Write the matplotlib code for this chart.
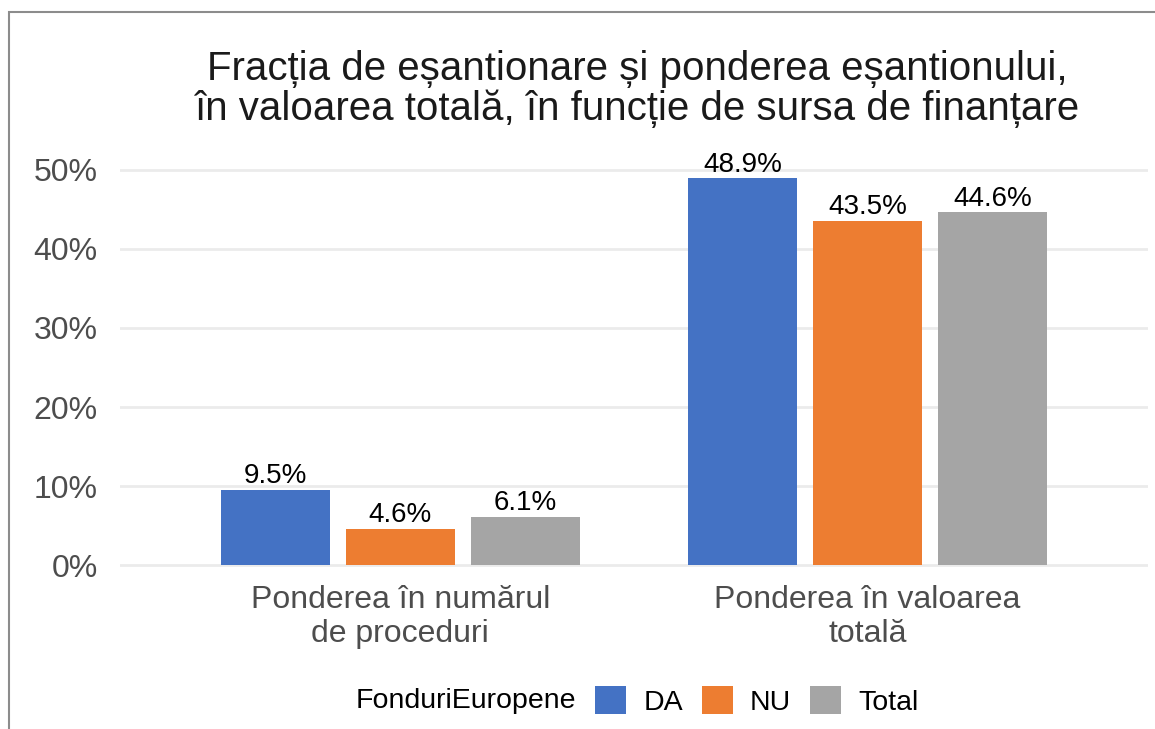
import matplotlib.pyplot as plt
import matplotlib.patches as mpatches
import numpy as np

plt.rcParams['font.family'] = ['Liberation Sans', 'DejaVu Sans']

# date
categorii = ['Ponderea în numărul\nde proceduri', 'Ponderea în valoarea\ntotală']
serii = ['DA', 'NU', 'Total']
da = [0.095, 0.489]
nu = [0.046, 0.435]
total = [0.061, 0.446]
culori = ['#4472C4', '#ED7D31', '#A5A5A5']

W, H = 1155, 729
fig = plt.figure(figsize=(W / 100, H / 100), dpi=100)

# chenar gri in jurul graficului
fig.patches.append(mpatches.Rectangle((9 / W, -0.2), 1.2, 1 - 12 / H + 0.2,
                                      transform=fig.transFigure, fill=False,
                                      edgecolor='#8C8C8C', linewidth=1.5))

ax = fig.add_axes([120 / W, 1 - 581 / H, (1148 - 120) / W, (581 - 150) / H])

x = np.arange(1, len(categorii) + 1)
latime = 0.233
pas = 0.268
for i, (vals, nume, c) in enumerate(zip([da, nu, total], serii, culori)):
    pos = x + (i - 1) * pas
    ax.bar(pos, vals, width=latime, color=c, label=nume, zorder=2)
    for xb, v in zip(pos, vals):
        ax.text(xb, v + 0.001, f'{v * 100:.1f}%', ha='center', va='bottom',
                fontsize=20, color='black', zorder=3)

ax.set_xlim(0.4, 2.6)
ax.set_ylim(-0.02, 0.525)
ax.set_yticks([0, 0.1, 0.2, 0.3, 0.4, 0.5])
ax.set_yticklabels([f'{int(t * 100)}%' for t in ax.get_yticks()])
ax.set_xticks(x)
ax.set_xticklabels(categorii, linespacing=1.15)
ax.tick_params(axis='y', length=0, pad=16, labelsize=23, labelcolor='#4D4D4D')
ax.tick_params(axis='x', length=0, pad=3, labelsize=23, labelcolor='#4D4D4D')
ax.grid(axis='y', color='#EBEBEB', linewidth=2, zorder=0)
for s in ax.spines.values():
    s.set_visible(False)

fig.text(637 / W, 1 - 89 / H,
         'Fracția de eșantionare și ponderea eșantionului,\n'
         'în valoarea totală, în funcție de sursa de finanțare',
         ha='center', va='center', fontsize=29, color='#1A1A1A', linespacing=1.05)

# legenda jos, cu titlul pe stanga
fig.text(356 / W, 1 - 701 / H, 'FonduriEuropene', ha='left', va='center',
         fontsize=20.5, color='black')
handles, labels = ax.get_legend_handles_labels()
fig.legend(handles, labels, ncol=3, loc='center left',
           bbox_to_anchor=(595 / W, 1 - 701 / H), frameon=False,
           fontsize=20.5, handlelength=1.1, handleheight=1.1,
           handletextpad=0.6, columnspacing=0.65, borderaxespad=0,
           borderpad=0)

fig.savefig('out.png', dpi=100)
